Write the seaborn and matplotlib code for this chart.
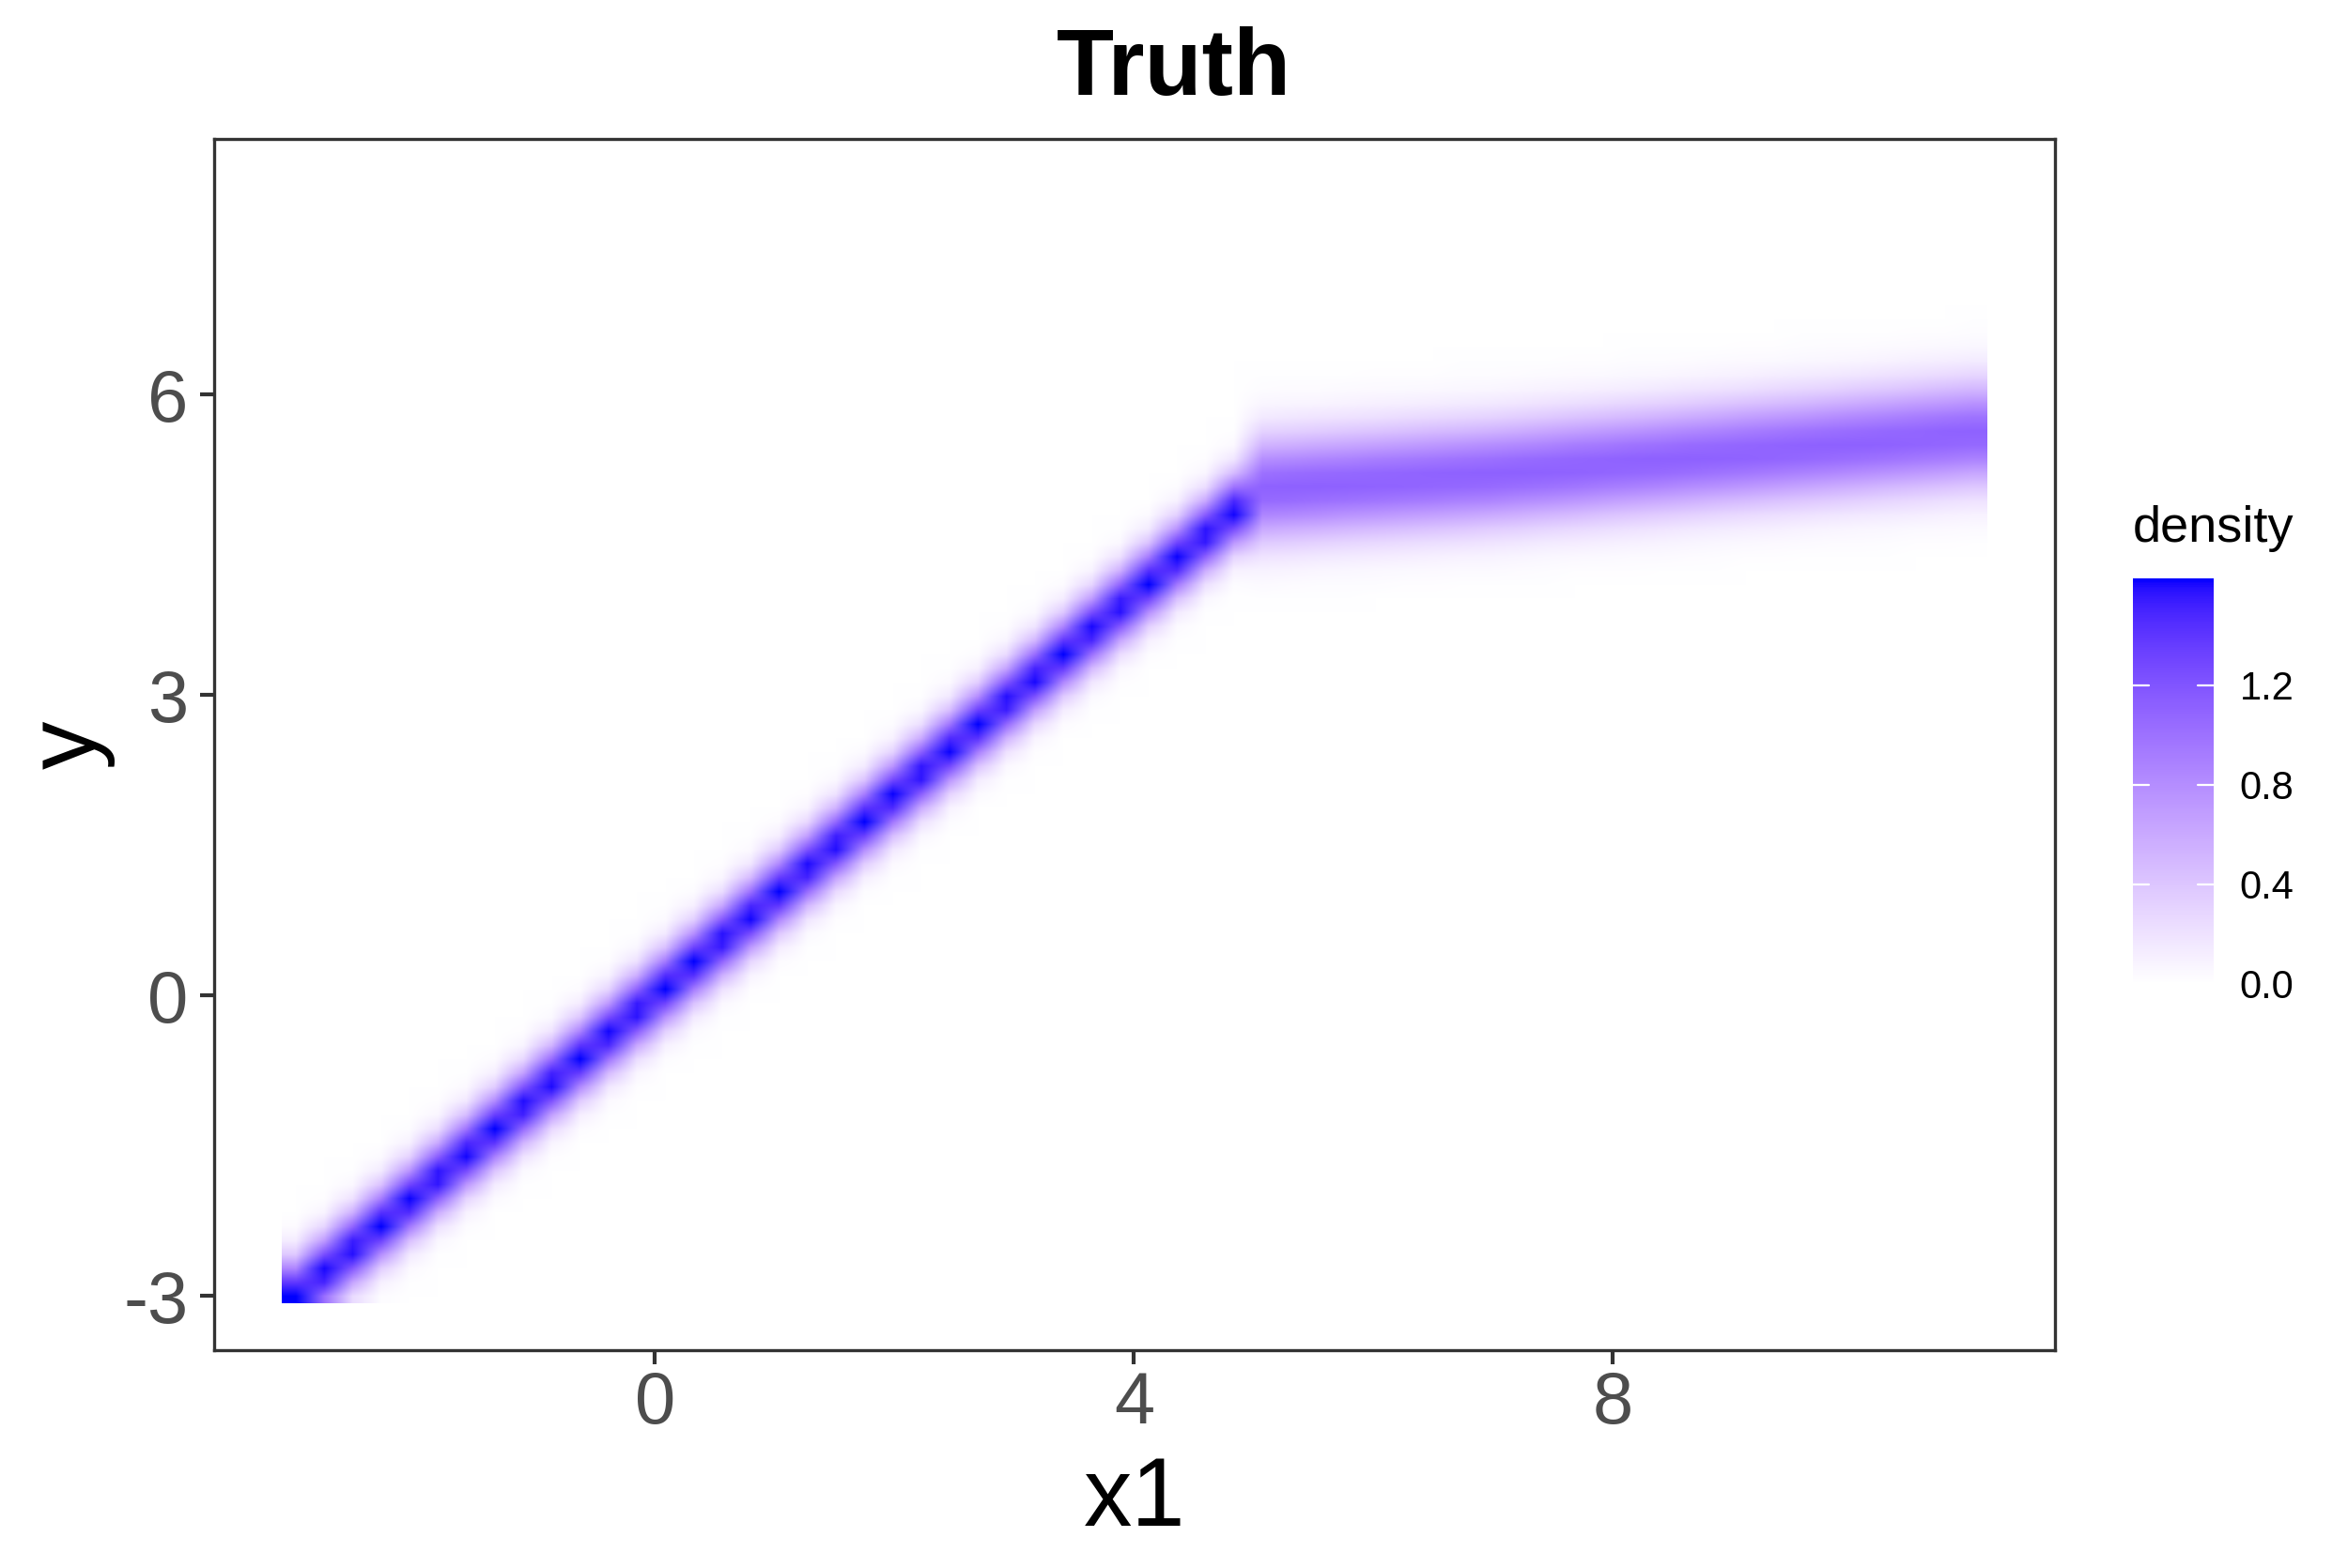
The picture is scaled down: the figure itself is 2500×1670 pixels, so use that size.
import numpy as np
import matplotlib
matplotlib.use("Agg")
import matplotlib.pyplot as plt
from matplotlib.colors import ListedColormap, Normalize
import seaborn as sns


# DATA

x1_range = [-3.0, 11.0]      # raster cell centres along x1
x1_steps = 60
y_range = [-3.0, 8.0]        # raster cell centres along y
y_steps = 80

kink_x1 = 5.0                # below this: y ~ N(x1, lower_sd)
lower_sd = 0.245
upper_x1 = [5.0, 7.0, 9.0, 11.0]   # above the kink: mean of y
upper_mean = [5.05, 5.2, 5.4, 5.6]
upper_sd = 0.36

x_ticks = [0, 4, 8]
y_ticks = [-3, 0, 3, 6]
bar_ticks = [0.0, 0.4, 0.8, 1.2]


# DENSITY GRID

x1 = np.linspace(x1_range[0], x1_range[1], x1_steps)
yy = np.linspace(y_range[0], y_range[1], y_steps)
dx = x1[1] - x1[0]
dy = yy[1] - yy[0]

mean = np.where(x1 <= kink_x1, x1, np.interp(x1, upper_x1, upper_mean))
sd = np.where(x1 <= kink_x1, lower_sd, upper_sd)

z = (yy[:, None] - mean[None, :]) / sd[None, :]
dens = np.exp(-0.5 * z ** 2) / (sd[None, :] * np.sqrt(2 * np.pi))


# COLOUR SCALE: white -> blue blended in CIELAB (like ggplot)

M = np.array([[0.4124564, 0.3575761, 0.1804375],
              [0.2126729, 0.7151522, 0.0721750],
              [0.0193339, 0.1191920, 0.9503041]])
WHITE_XYZ = M @ np.ones(3)


def srgb_to_lab(rgb):
    c = np.asarray(rgb, float)
    lin = np.where(c <= 0.04045, c / 12.92, ((c + 0.055) / 1.055) ** 2.4)
    xyz = (M @ lin) / WHITE_XYZ
    f = np.where(xyz > (6 / 29) ** 3, np.cbrt(xyz), xyz / (3 * (6 / 29) ** 2) + 4 / 29)
    return np.array([116 * f[1] - 16, 500 * (f[0] - f[1]), 200 * (f[1] - f[2])])


def lab_to_srgb(lab):
    L, a, b = lab[:, 0], lab[:, 1], lab[:, 2]
    fy = (L + 16) / 116
    fx = fy + a / 500
    fz = fy - b / 200
    f = np.stack([fx, fy, fz], axis=1)
    xyz = np.where(f > 6 / 29, f ** 3, 3 * (6 / 29) ** 2 * (f - 4 / 29)) * WHITE_XYZ
    lin = xyz @ np.linalg.inv(M).T
    lin = np.clip(lin, 0, 1)
    c = np.where(lin <= 0.0031308, 12.92 * lin, 1.055 * lin ** (1 / 2.4) - 0.055)
    return np.clip(np.round(c * 255) / 255, 0, 1)


t = np.linspace(0, 1, 256)[:, None]
lab = (1 - t) * srgb_to_lab([1, 1, 1]) + t * srgb_to_lab([0, 0, 1])
colors = lab_to_srgb(lab)
colors[0] = [1, 1, 1]
colors[-1] = [0, 0, 1]
cmap = ListedColormap(colors)
norm = Normalize(vmin=0, vmax=dens.max())


# PLOT

sns.set_theme(style="white")
plt.rcParams["font.family"] = ["Liberation Sans", "DejaVu Sans"]
plt.rcParams["text.color"] = "black"

fig = plt.figure(figsize=(12.5, 8.35), dpi=200)
ax = fig.add_axes([0.0912, 0.1389, 0.784, 0.7725])

im = ax.imshow(
    dens,
    origin="lower",
    extent=[x1[0] - dx / 2, x1[-1] + dx / 2, yy[0] - dy / 2, yy[-1] + dy / 2],
    aspect="auto",
    cmap=cmap,
    norm=norm,
    interpolation="bilinear",
    interpolation_stage="rgba",
)

ax.set_xlim(-3.68, 11.69)
ax.set_ylim(-3.54, 8.55)
ax.set_xticks(x_ticks)
ax.set_yticks(y_ticks)
ax.set_xticklabels([str(v) for v in x_ticks])
ax.set_yticklabels([str(v) for v in y_ticks])
ax.tick_params(axis="both", length=5.4, width=1.5, color="#333333",
               labelsize=28, labelcolor="#4D4D4D", pad=4.5,
               bottom=True, left=True)
ax.tick_params(axis="x", pad=2)
for s in ax.spines.values():
    s.set_visible(True)
    s.set_color("#333333")
    s.set_linewidth(1.2)
ax.grid(False)

fig.text(0.4832, 1 - 1625 / 1670, "x1", fontsize=37, color="black",
         ha="center", va="baseline")
fig.text(0.0296, 0.525, "y", fontsize=37, color="black", rotation=90,
         ha="center", va="center")
fig.text(0.5, 1 - 101 / 1670, "Truth", fontsize=36, fontweight="bold",
         color="black", ha="center", va="baseline")

# legend
cax = fig.add_axes([0.9084, 0.3725, 0.0344, 0.2585])
cb = fig.colorbar(im, cax=cax)
cb.outline.set_visible(False)
cb.set_ticks(bar_ticks)
cb.set_ticklabels(["%.1f" % v for v in bar_ticks])
cax.tick_params(length=0, labelsize=15, labelcolor="black", pad=10)
for v in bar_ticks:
    cax.plot([0, 0.2], [v, v], color="white", lw=0.8)
    cax.plot([0.8, 1], [v, v], color="white", lw=0.8)
fig.text(0.9084, 1 - 577 / 1670, "density", fontsize=19.5, color="black",
         ha="left", va="baseline")

fig.savefig("out.png", dpi=200, facecolor="white")
